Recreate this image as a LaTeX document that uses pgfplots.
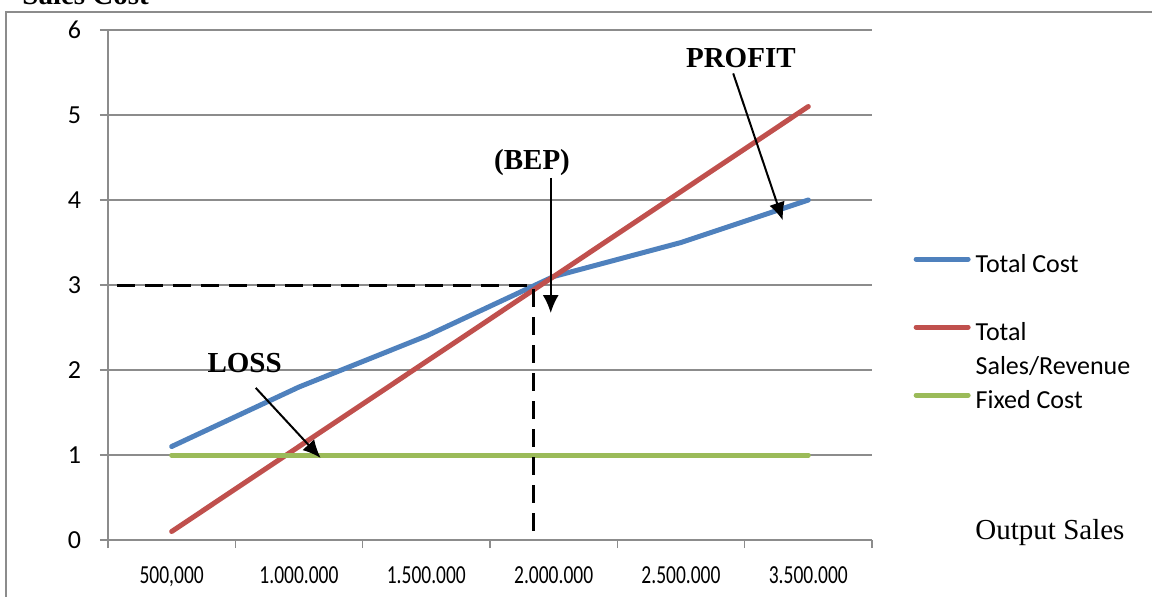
\documentclass[border=0pt]{standalone}
\usepackage{fontspec}
\setmainfont{Liberation Serif}
\newfontfamily\calfont{Carlito}
\usepackage{pgfplots}
\pgfplotsset{compat=1.18}
\usetikzlibrary{arrows.meta}
\definecolor{tcblue}{HTML}{4F81BD}
\definecolor{tsred}{HTML}{C0504D}
\definecolor{fcgreen}{HTML}{9BBB59}
\definecolor{axgray}{HTML}{8C8C8C}
\begin{document}
\begin{tikzpicture}
\draw[axgray, line width=0.9pt] (3pt,-5pt) rectangle (600pt,292pt);
\node[anchor=base west, inner sep=0pt, font=\bfseries\fontsize{14.5}{16}\selectfont] at (11pt,295.5pt) {Sales Cost};
\begin{axis}[
  at={(54pt,28pt)}, anchor=south west,
  scale only axis, width=382pt, height=255pt,
  xmin=-0.5, xmax=5.5, ymin=0, ymax=6,
  axis x line*=bottom, axis y line*=left,
  x axis line style={-}, y axis line style={-},
  axis line style={axgray, line width=0.8pt},
  xtick={-0.5,0.5,1.5,2.5,3.5,4.5,5.5},
  x tick label as interval,
  xticklabels={{500,000}, {1.000.000}, {1.500.000}, {2.000.000}, {2.500.000}, {3.500.000}},
  ytick={0,1,2,3,4,5,6},
  ymajorgrids,
  grid style={axgray, line width=0.8pt},
  tick align=outside, major tick length=4pt,
  tick style={axgray, line width=0.8pt},
  /pgf/number format/assume math mode=true,
  ticklabel style={font=\calfont\fontsize{13}{15}\selectfont, text=black},
  xticklabel style={xscale=0.75, yshift=-6pt},
  yticklabel style={xshift=-6pt},
  clip=false,
  legend style={at={(1.054,0.569)}, anchor=north west, draw=none, fill=none,
    inner sep=0pt, font=\calfont\fontsize{13}{15}\selectfont,
    row sep=0pt, column sep=2.5pt,
    nodes={inner sep=0pt, text height=11pt, text depth=6pt}},
  legend cell align=left,
  legend image code/.code={\draw[#1, line width=2.5pt, line cap=round] (0pt,4pt) -- (26pt,4pt);},
]
\addplot[tcblue, line width=2.5pt, line cap=round, forget plot] coordinates {(0,1.1) (1,1.8) (2,2.4) (3,3.1) (4,3.5) (5,4.0)};
\addplot[tsred, line width=2.5pt, line cap=round, forget plot] coordinates {(0,0.1) (1,1.1) (2,2.1) (3,3.1) (4,4.1) (5,5.1)};
\addplot[fcgreen, line width=2.5pt, line cap=round, forget plot] coordinates {(0,1) (1,1) (2,1) (3,1) (4,1) (5,1)};
\addlegendimage{tcblue}\addlegendentry{Total Cost}
\addlegendimage{empty legend}\addlegendentry{}
\addlegendimage{tsred}\addlegendentry{Total}
\addlegendimage{empty legend}\addlegendentry{Sales/Revenue}
\addlegendimage{fcgreen}\addlegendentry{Fixed Cost}
% annotations
\draw[black, line width=1.5pt, dash pattern=on 9pt off 5pt] (axis cs:-0.43,2.99) -- (axis cs:2.84,2.99) -- (axis cs:2.84,0);
\draw[black, line width=1pt, -{Latex[length=9pt,width=8pt]}] (axis cs:2.977,4.26) -- (axis cs:2.977,2.67);
\node[font=\bfseries\fontsize{14.5}{16}\selectfont] at (axis cs:2.83,4.44) {(BEP)};
\draw[black, line width=1pt, -{Latex[length=9pt,width=8pt]}] (axis cs:4.41,5.49) -- (axis cs:4.80,3.76);
\node[font=\bfseries\fontsize{14.5}{16}\selectfont] at (axis cs:4.47,5.67) {PROFIT};
\draw[black, line width=1pt, -{Latex[length=9pt,width=8pt]}] (axis cs:0.66,1.79) -- (axis cs:1.17,0.965);
\node[font=\bfseries\fontsize{14.5}{16}\selectfont] at (axis cs:0.573,2.08) {LOSS};
\end{axis}
\node[font=\fontsize{14.5}{16}\selectfont] at (525pt,31.5pt) {Output Sales};
\pgfresetboundingbox
\useasboundingbox (0,0) rectangle (576pt,298pt);
\end{tikzpicture}
\end{document}
